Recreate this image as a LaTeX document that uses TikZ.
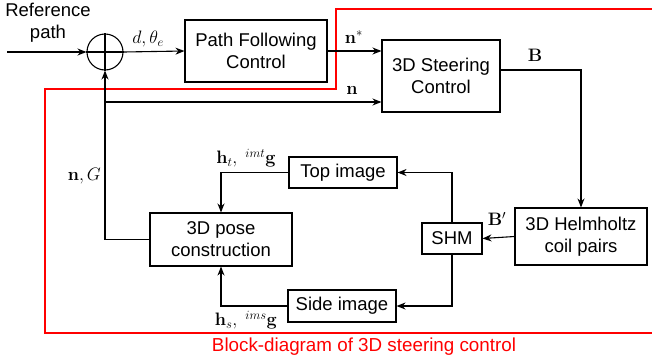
\documentclass[tikz,border=0pt]{standalone}
\usepackage{fix-cm}
\usepackage[no-math]{fontspec}
\setmainfont{Liberation Sans}
\usetikzlibrary{arrows.meta,calc}
\begin{document}
\begin{tikzpicture}[x=1pt,y=-1pt,
  every node/.style={font=\fontsize{18.5}{22}\selectfont},
  blk/.style={draw,line width=1.1pt,align=center,inner sep=0pt},
  conn/.style={line width=1.1pt},
  arr/.style={conn,-{Stealth[length=9pt,width=7pt]}},
  lbl/.style={inner sep=1pt,font=\fontsize{18}{22}\selectfont},
  redline/.style={red,line width=1.1pt}]
\useasboundingbox (0,0) rectangle (652,362);
% red frame
\draw[redline] (653,9) -- (336,9) -- (336,89) -- (45,89) -- (45,333) -- (653,333);
\node[red,font=\fontsize{18.8}{22}\selectfont] (cap) at (364,346.5) {Block-diagram of 3D steering control};
% blocks
\node[draw,circle,line width=1.1pt,minimum size=36pt,inner sep=0pt] (sum) at (105,52) {};
\draw[conn] (sum.north) -- (sum.south) (sum.west) -- (sum.east);
\node[blk,minimum width=142pt,minimum height=62pt] (pf) at (256,51) {Path Following\\Control};
\node[blk,minimum width=118pt,minimum height=72pt] (st) at (441,76) {3D Steering\\Control};
\node[blk,minimum width=142pt,minimum height=53pt] (pose) at (221,239.5) {3D pose\\construction};
\node[blk,minimum width=108pt,minimum height=31pt] (ti) at (343,172.5) {Top image};
\node[blk,minimum width=108pt,minimum height=32pt] (si) at (342,306) {Side image};
\node[blk,minimum width=60pt,minimum height=31pt] (shm) at (452,238.5) {SHM};
\node[blk,minimum width=132pt,minimum height=57pt] (hh) at (581,236.5) {3D Helmholtz\\coil pairs};
% labels
\node[align=center] (ref) at (48,23) {Reference\\path};
\node[lbl] (ldt) at (148,39) {$d,\theta_e$};
\node[lbl] (lns) at (354,37) {$\mathbf{n}^*$};
\node[lbl] (ln) at (352,90) {$\mathbf{n}$};
\node[lbl] (lB) at (535,55) {$\mathbf{B}$};
\node[lbl] (lBp) at (497,219) {$\mathbf{B}'$};
\node[lbl,anchor=east] (lnG) at (102,176) {$\mathbf{n},G$};
\node[lbl] (lht) at (246,158) {$\mathbf{h}_t,\ {}^{imt}\mathbf{g}$};
\node[lbl] (lhs) at (246,320) {$\mathbf{h}_s,\ {}^{ims}\mathbf{g}$};
% connectors
\coordinate (in) at (7,52);
\coordinate (nstart) at (105,102);
\coordinate (yB) at (0,70);
\draw[arr] (in) -- (sum.west);
\draw[arr] (sum.east) -- (pf.west);
\draw[arr] (pf.east) -- (pf.east -| st.west);
\draw[arr] (nstart) -- (nstart -| st.west);
\draw[arr] (st.east |- yB) -| (hh.north);
\draw[arr] (hh.west) -- (shm.east);
\draw[arr] (shm.north) |- (ti.east);
\draw[arr] (shm.south) |- (si.east);
\draw[arr] (ti.west) -| (pose.north);
\draw[arr] (si.west) -| (pose.south);
\draw[arr] (pose.west) -| (sum.south);
\end{tikzpicture}
\end{document}
